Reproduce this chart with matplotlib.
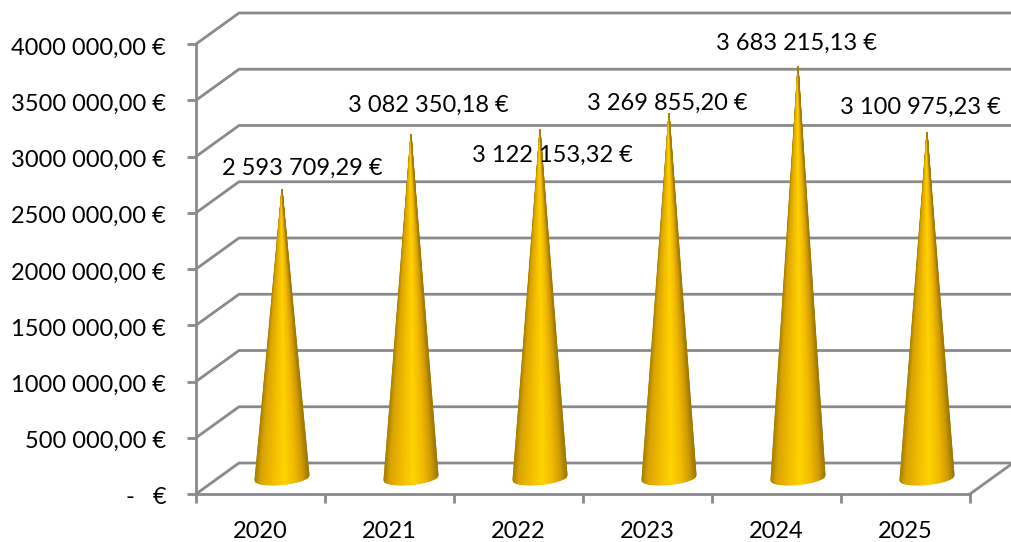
import numpy as np
from matplotlib import pyplot as plt
from matplotlib.colors import LinearSegmentedColormap
from matplotlib.transforms import Affine2D

years = ['2020', '2021', '2022', '2023', '2024', '2025']
values = [2593709.29, 3082350.18, 3122153.32, 3269855.20, 3683215.13, 3100975.23]
value_labels = ['2 593 709,29 €', '3 082 350,18 €', '3 122 153,32 €',
                '3 269 855,20 €', '3 683 215,13 €', '3 100 975,23 €']
y_ticks = [0, 500000, 1000000, 1500000, 2000000, 2500000, 3000000, 3500000, 4000000]
y_labels = ['-   €', '500 000,00 €', '1000 000,00 €', '1500 000,00 €', '2000 000,00 €',
            '2500 000,00 €', '3000 000,00 €', '3500 000,00 €', '4000 000,00 €']

# label offsets from the cone tip, in pixels
label_dx = [20, 17, 12, -2, -2, -7]
label_dy = [21, 29, -26, 10, 23, 25]

GRID = '#8a8a8a'
W, H = 1011, 542
PX_X = 129.0               # pixels per category
PX_Y = 450.0 / 4000000     # pixels per euro
FONT = 17

plt.rcParams['font.family'] = ['Lato', 'DejaVu Sans']

fig = plt.figure(figsize=(W / 100, H / 100), dpi=100)
ax = fig.add_axes([196 / W, (H - 494) / H, 774 / W, 450 / H])
ax.set_xlim(-0.5, 5.5)
ax.set_ylim(0, 4000000)
ax.patch.set_visible(False)

# 3D depth of the chart box, turned into data units
depth_x = 43 / PX_X
depth_y = 31 / PX_Y
left, right = -0.5, 5.5

for v in y_ticks:
    ax.plot([left, left + depth_x, right + depth_x], [v, v + depth_y, v + depth_y],
            color=GRID, lw=2, clip_on=False, zorder=1, solid_joinstyle='miter')
ax.plot([right, right + depth_x], [0, depth_y], color=GRID, lw=2, clip_on=False, zorder=1)

# cones: a mesh from the tip to the base curve, so the shading follows the shape
cone_map = LinearSegmentedColormap.from_list(
    'cone', [(0, '#a98000'), (0.1, '#d9a400'), (0.35, '#f5bf00'), (0.55, '#ffd400'),
             (0.75, '#f2b900'), (0.9, '#d09c00'), (1, '#a07800')])
base_y = 16 / PX_Y
tip_y = 13 / PX_Y
half_w = 27 / PX_X
ry = 6.5 / PX_Y
tilt = 2.5 / PX_Y
u = np.linspace(-1, 1, 60)
for i, v in enumerate(values):
    cx = i + 21.5 / PX_X
    bx = cx + half_w * u
    by = base_y - ry * np.sqrt(1 - u ** 2) + tilt * u
    tip = (cx, tip_y + v)
    X = np.vstack([np.full_like(u, tip[0]), bx])
    Y = np.vstack([np.full_like(u, tip[1]), by])
    C = np.vstack([(u + 1) / 2, (u + 1) / 2])
    ax.pcolormesh(X, Y, C, shading='gouraud', cmap=cone_map, vmin=0, vmax=1,
                  zorder=3, clip_on=False)
    ax.annotate(value_labels[i], xy=tip, xytext=(label_dx[i] * 0.72, label_dy[i] * 0.72),
                textcoords='offset points', ha='center', va='center',
                fontsize=FONT, color='black', zorder=5, annotation_clip=False)

ax.set_xlim(-0.5, 5.5)
ax.set_ylim(0, 4000000)

for name in ['top', 'right']:
    ax.spines[name].set_visible(False)
for name in ['left', 'bottom']:
    ax.spines[name].set_color(GRID)
    ax.spines[name].set_linewidth(2)

ax.set_yticks(y_ticks)
ax.set_yticklabels(y_labels)
ax.tick_params(axis='y', length=6.5, width=2, color=GRID, pad=15, labelsize=FONT)

# the value labels sit a little below their ticks
for lab in ax.get_yticklabels():
    lab.set_transform(lab.get_transform() + Affine2D().translate(0, -2))

# year labels sit between the tick marks
ax.set_xticks(range(len(years)))
ax.set_xticklabels(years)
ax.set_xticks(np.arange(-0.5, 6, 1), minor=True)
ax.tick_params(axis='x', which='major', length=0, pad=19.5, labelsize=FONT)
ax.tick_params(axis='x', which='minor', length=6.5, width=2, color=GRID)

fig.savefig('out.png', dpi=100)
